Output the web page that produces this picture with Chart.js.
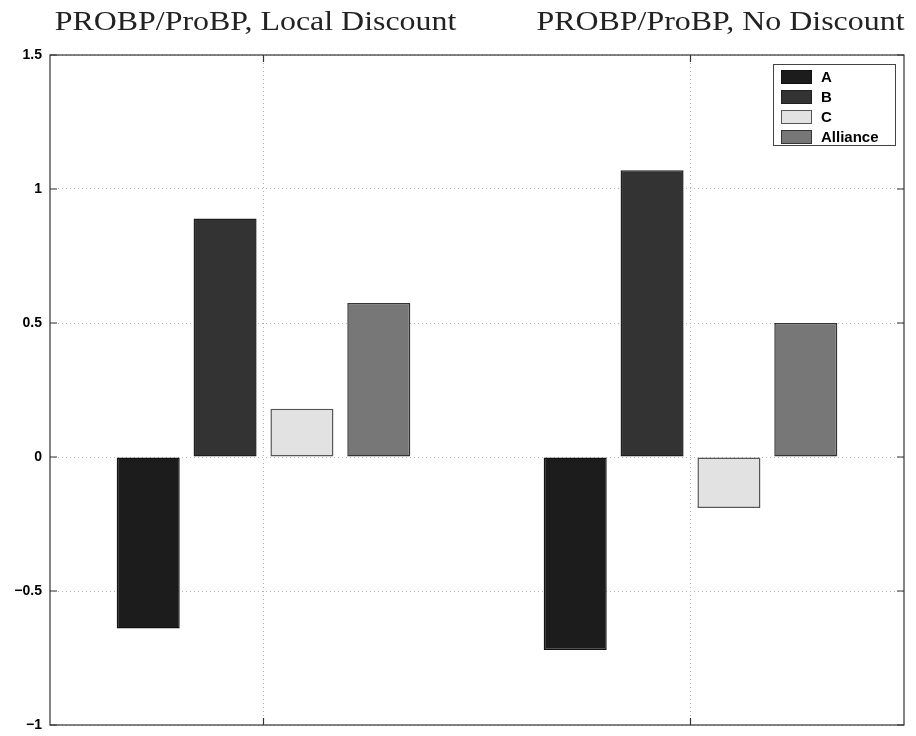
<!DOCTYPE html>
<html>
<head>
<meta charset="utf-8">
<script src="https://cdn.jsdelivr.net/npm/chart.js@4"></script>
<style>
  html, body { margin: 0; padding: 0; background: #fff; }
  canvas { display: block; }
</style>
</head>
<body>
<canvas id="chart" width="916" height="736"></canvas>
<script>
// data
const categories = ["PROBP/ProBP, Local Discount", "PROBP/ProBP, No Discount"];
const seriesNames = ["A", "B", "C", "Alliance"];
const valuesA = [-0.64, -0.72];
const valuesB = [0.89, 1.07];
const valuesC = [0.18, -0.19];
const valuesAlliance = [0.575, 0.5];
const yTicks = [-1, -0.5, 0, 0.5, 1, 1.5];

const fills = ["#1c1c1c", "#333333", "#e2e2e2", "#777777"];
const edges = ["#111111", "#1f1f1f", "#555555", "#333333"];

// titles over each group (wide serif, like the original)
const titlePlugin = {
  id: "groupTitles",
  afterDraw(chart) {
    const ctx = chart.ctx;
    const x = chart.scales.x;
    const shift = [-8, 30];
    const stretch = 1.14;
    ctx.save();
    ctx.font = '28px "Liberation Serif", "Times New Roman", serif';
    ctx.fillStyle = "#222";
    ctx.textAlign = "center";
    ctx.textBaseline = "alphabetic";
    chart.data.labels.forEach((lab, i) => {
      const cx = x.getPixelForTick(i) + shift[i];
      ctx.save();
      ctx.translate(cx, 30);
      ctx.scale(stretch, 1);
      ctx.fillText(lab, 0, 0);
      ctx.restore();
    });
    ctx.restore();
  }
};

// matlab-like box with inward ticks
const framePlugin = {
  id: "frame",
  afterDraw(chart) {
    const { ctx, chartArea: a, scales } = chart;
    ctx.save();
    ctx.strokeStyle = "#333";
    ctx.lineWidth = 1.2;
    ctx.strokeRect(a.left, a.top, a.right - a.left, a.bottom - a.top);
    ctx.beginPath();
    scales.y.ticks.forEach((t, i) => {
      const py = scales.y.getPixelForTick(i);
      ctx.moveTo(a.left, py); ctx.lineTo(a.left + 7, py);
      ctx.moveTo(a.right, py); ctx.lineTo(a.right - 7, py);
    });
    scales.x.ticks.forEach((t, i) => {
      const px = scales.x.getPixelForTick(i);
      ctx.moveTo(px, a.bottom); ctx.lineTo(px, a.bottom - 7);
      ctx.moveTo(px, a.top); ctx.lineTo(px, a.top + 7);
    });
    ctx.stroke();
    ctx.restore();
  }
};

// legend box in the upper right corner
const legendPlugin = {
  id: "boxLegend",
  afterDraw(chart) {
    const { ctx, chartArea: a } = chart;
    const sets = chart.data.datasets;
    const w = 122, h = 81;
    const left = a.right - 9 - w, top = a.top + 9;
    ctx.save();
    ctx.fillStyle = "#fff";
    ctx.fillRect(left, top, w, h);
    ctx.strokeStyle = "#444";
    ctx.lineWidth = 1;
    ctx.strokeRect(left + 0.5, top + 0.5, w, h);
    ctx.font = 'bold 15px "Liberation Sans", Arial, sans-serif';
    ctx.textBaseline = "middle";
    sets.forEach((ds, i) => {
      const ry = top + 6 + i * 20;
      ctx.fillStyle = ds.backgroundColor;
      ctx.fillRect(left + 8, ry, 31, 14);
      ctx.strokeStyle = ds.borderColor;
      ctx.strokeRect(left + 8.5, ry + 0.5, 30, 13);
      ctx.fillStyle = "#000";
      ctx.fillText(ds.label, left + 48, ry + 8);
    });
    ctx.restore();
  }
};

const allValues = [valuesA, valuesB, valuesC, valuesAlliance];

new Chart(document.getElementById("chart"), {
  type: "bar",
  data: {
    labels: categories,
    datasets: seriesNames.map((name, i) => ({
      label: name,
      data: allValues[i],
      backgroundColor: fills[i],
      borderColor: edges[i],
      borderWidth: 1.5,
      borderSkipped: false,
      categoryPercentage: 0.72,
      barPercentage: 0.82
    }))
  },
  options: {
    responsive: false,
    animation: false,
    layout: { padding: { top: 55, right: 12, bottom: 11, left: 0 } },
    plugins: {
      legend: { display: false },
      tooltip: { enabled: false }
    },
    scales: {
      x: {
        grid: { offset: false, drawTicks: false, color: "#b5b5b5", lineWidth: 1 },
        border: { display: false, dash: [1, 3] },
        ticks: { display: false },
        afterFit: s => { s.height = 0; }
      },
      y: {
        min: -1,
        max: 1.5,
        afterBuildTicks: s => { s.ticks = yTicks.map(v => ({ value: v })); },
        ticks: {
          color: "#000",
          padding: 8,
          font: { family: '"Liberation Sans", Arial, sans-serif', size: 14, weight: "bold" },
          callback: v => String(v).replace("-", "\u2212")
        },
        grid: { drawTicks: false, color: "#b5b5b5", lineWidth: 1 },
        border: { display: false, dash: [1, 3] },
        afterFit: s => { s.width = 50; s.paddingTop = 0; s.paddingBottom = 0; }
      }
    }
  },
  plugins: [titlePlugin, framePlugin, legendPlugin]
});
</script>
</body>
</html>
